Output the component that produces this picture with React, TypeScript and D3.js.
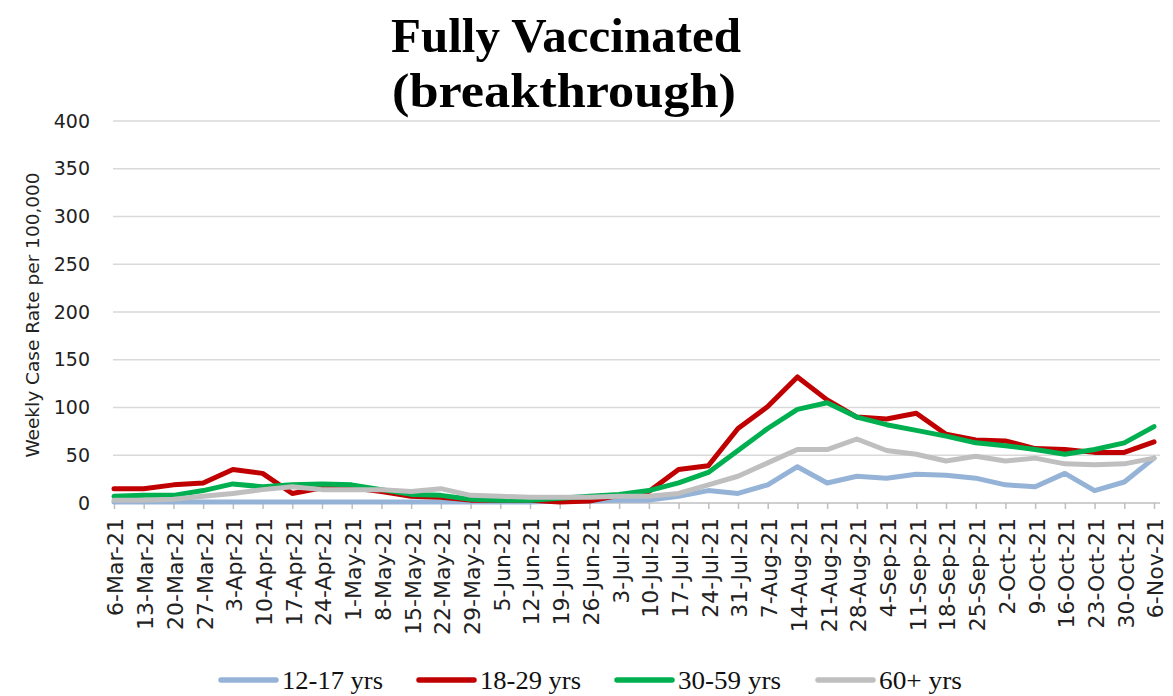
import { useEffect, useRef } from 'react';
import * as d3 from 'd3';

// Semanas (eje X)
const weeks = [
  '6-Mar-21', '13-Mar-21', '20-Mar-21', '27-Mar-21', '3-Apr-21', '10-Apr-21', '17-Apr-21', '24-Apr-21',
  '1-May-21', '8-May-21', '15-May-21', '22-May-21', '29-May-21', '5-Jun-21', '12-Jun-21', '19-Jun-21',
  '26-Jun-21', '3-Jul-21', '10-Jul-21', '17-Jul-21', '24-Jul-21', '31-Jul-21', '7-Aug-21', '14-Aug-21',
  '21-Aug-21', '28-Aug-21', '4-Sep-21', '11-Sep-21', '18-Sep-21', '25-Sep-21', '2-Oct-21', '9-Oct-21',
  '16-Oct-21', '23-Oct-21', '30-Oct-21', '6-Nov-21',
];

// Tasa semanal por 100.000, por grupo de edad
const age12to17 = [1, 1, 1, 1, 1, 1, 1, 1, 1, 1, 1, 1, 1, 1, 1, 2, 2, 3, 3, 7, 13, 10, 19, 38, 21, 28, 26, 30, 29, 26, 19, 17, 31, 13, 22, 47];
const age18to29 = [15, 15, 19, 21, 35, 31, 10, 16, 16, 12, 7, 6, 3, 3, 3, 1, 2, 8, 12, 35, 39, 78, 101, 132, 108, 90, 88, 94, 72, 66, 65, 57, 56, 53, 53, 64];
const age30to59 = [7, 8, 8, 13, 20, 17, 19, 20, 19, 14, 9, 8, 4, 3, 3, 5, 7, 9, 13, 21, 32, 55, 78, 98, 105, 90, 82, 76, 70, 63, 60, 56, 51, 56, 63, 80];
const age60plus = [3, 3, 4, 7, 10, 14, 17, 14, 14, 14, 12, 15, 8, 7, 6, 6, 6, 7, 7, 10, 19, 28, 42, 56, 56, 67, 55, 51, 44, 49, 44, 47, 41, 40, 41, 47];

const seriesNames = ['12-17 yrs', '18-29 yrs', '30-59 yrs', '60+ yrs'];
const seriesColors = ['#95B3D7', '#C00000', '#00B050', '#BFBFBF'];
const yTicks = [0, 50, 100, 150, 200, 250, 300, 350, 400];

export default function App() {
  const ref = useRef<SVGSVGElement>(null);

  useEffect(() => {
    const width = 1173;
    const height = 696;
    const svg = d3.select(ref.current);
    svg.selectAll('*').remove();
    svg.attr('width', width).attr('height', height);

    const series = [age12to17, age18to29, age30to59, age60plus];

    const x = d3.scalePoint<string>().domain(weeks).range([114, 1154]);
    const y = d3.scaleLinear().domain([0, 400]).range([503, 121]);

    // Titulo
    const title = svg.append('text')
      .attr('text-anchor', 'middle')
      .attr('font-family', '"Liberation Serif", serif')
      .attr('font-weight', 700)
      .attr('font-size', 49)
      .attr('fill', '#000');
    title.append('tspan').attr('x', 566).attr('y', 52)
      .attr('textLength', 350).attr('lengthAdjust', 'spacingAndGlyphs')
      .text('Fully Vaccinated');
    title.append('tspan').attr('x', 564).attr('y', 107)
      .attr('textLength', 344).attr('lengthAdjust', 'spacingAndGlyphs')
      .text('(breakthrough)');

    // Rejilla
    svg.append('g')
      .selectAll('line')
      .data(yTicks.filter(d => d > 0))
      .join('line')
      .attr('x1', 113)
      .attr('x2', 1160)
      .attr('y1', d => y(d))
      .attr('y2', d => y(d))
      .attr('stroke', '#D9D9D9')
      .attr('stroke-width', 1.5);

    // Eje Y
    svg.append('g')
      .attr('transform', 'translate(113,0)')
      .call(d3.axisLeft(y).tickValues(yTicks).tickSize(0).tickPadding(23))
      .call(g => g.select('.domain').remove())
      .selectAll('text')
      .attr('font-family', '"DejaVu Sans", sans-serif')
      .attr('font-size', 19)
      .attr('fill', '#222');

    svg.append('text')
      .attr('transform', 'translate(39,315) rotate(-90)')
      .attr('text-anchor', 'middle')
      .attr('font-family', '"DejaVu Sans", sans-serif')
      .attr('font-size', 18.5)
      .attr('fill', '#222')
      .text('Weekly Case Rate per 100,000');

    // Eje X
    const xAxis = svg.append('g')
      .attr('transform', `translate(0,${y(0)})`)
      .call(d3.axisBottom(x).tickSize(6).tickPadding(0));
    xAxis.select('.domain')
      .attr('d', 'M113,0H1160')
      .attr('stroke', '#BFBFBF')
      .attr('stroke-width', 1.5);
    xAxis.selectAll('.tick line')
      .attr('stroke', '#BFBFBF')
      .attr('stroke-width', 1.5);
    xAxis.selectAll('.tick text')
      .attr('transform', 'rotate(-90)')
      .attr('text-anchor', 'end')
      .attr('x', -15)
      .attr('y', 1)
      .attr('dy', '0.36em')
      .attr('font-family', '"DejaVu Sans", sans-serif')
      .attr('font-size', 22)
      .attr('fill', '#222');

    // Lineas
    const line = d3.line<number>()
      .x((_, i) => x(weeks[i]) as number)
      .y(d => y(d));
    series.forEach((values, i) => {
      svg.append('path')
        .datum(values)
        .attr('d', line)
        .attr('fill', 'none')
        .attr('stroke', seriesColors[i])
        .attr('stroke-width', 5)
        .attr('stroke-linejoin', 'round')
        .attr('stroke-linecap', 'round');
    });

    // Leyenda
    const legend = svg.append('g').attr('transform', 'translate(219,680)');
    const legendX = [0, 198, 396, 597];
    const textWidths = [101, 101, 103, 83];
    seriesNames.forEach((name, i) => {
      const g = legend.append('g').attr('transform', `translate(${legendX[i]},0)`);
      g.append('line')
        .attr('x1', 2).attr('x2', 57)
        .attr('y1', 0).attr('y2', 0)
        .attr('stroke', seriesColors[i])
        .attr('stroke-width', 5.5)
        .attr('stroke-linecap', 'round');
      g.append('text')
        .attr('x', 63)
        .attr('y', 9)
        .attr('font-family', '"Liberation Serif", serif')
        .attr('font-size', 26)
        .attr('textLength', textWidths[i])
        .attr('lengthAdjust', 'spacingAndGlyphs')
        .attr('fill', '#111')
        .text(name);
    });
  }, []);

  return <svg ref={ref} style={{ position: 'absolute', left: 0, top: 0, background: '#fff' }} />;
}
